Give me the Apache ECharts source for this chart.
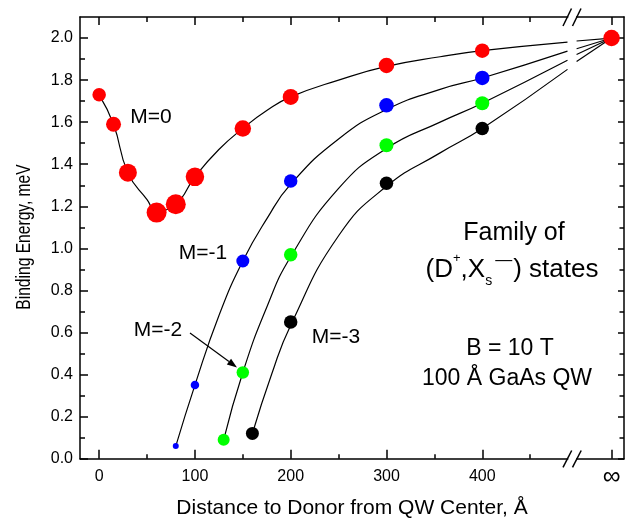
<!DOCTYPE html>
<html>
<head>
<meta charset="utf-8">
<script src="https://cdn.jsdelivr.net/npm/echarts@6/dist/echarts.min.js"></script>
<style>
html,body{margin:0;padding:0;background:#fff;}
#chart{width:631px;height:519px;}
</style>
</head>
<body>
<div id="chart"></div>
<script>
// ---------------- DATA ----------------
// axis ticks (Å and meV)
const xTickValues = [0, 100, 200, 300, 400];
const xInf = 535;                       // axis position that carries the "∞" label
const xMinorTicks = [50, 150, 250, 350, 450];
const yTickValues = [0, 0.2, 0.4, 0.6, 0.8, 1.0, 1.2, 1.4, 1.6, 1.8, 2.0];
const yMinorTicks = [0.1, 0.3, 0.5, 0.7, 0.9, 1.1, 1.3, 1.5, 1.7, 1.9];

// measured binding energies (meV) vs distance (Å)
const m0X = [0, 15, 30, 60, 80, 100, 150, 200, 300, 400];
const m0Y = [1.73, 1.59, 1.36, 1.17, 1.21, 1.34, 1.57, 1.72, 1.87, 1.94];
const m1X = [80, 100, 150, 200, 300, 400];
const m1Y = [0.06, 0.35, 0.94, 1.32, 1.68, 1.81];
const m2X = [130, 150, 200, 300, 400];
const m2Y = [0.09, 0.41, 0.97, 1.49, 1.69];
const m3X = [160, 200, 300, 400];
const m3Y = [0.12, 0.65, 1.31, 1.57];
const infY = 2.0;                       // common limit at infinite distance

// fitted curves (left of the axis break)
const c0X = [0, 15, 30, 50, 60, 80, 100, 125, 150, 175, 200, 250, 300, 356, 400, 489];
const c0Y = [1.73, 1.59, 1.36, 1.232, 1.18, 1.21, 1.34, 1.47, 1.57, 1.655, 1.72, 1.80, 1.865, 1.911, 1.94, 1.981];
const c1X = [80, 100, 125, 150, 175, 200, 250, 300, 356, 400, 489];
const c1Y = [0.06, 0.35, 0.68, 0.94, 1.14, 1.305, 1.52, 1.66, 1.756, 1.81, 1.938];
const c2X = [130, 150, 175, 200, 250, 300, 356, 400, 489];
const c2Y = [0.09, 0.41, 0.72, 0.96, 1.285, 1.475, 1.60, 1.69, 1.894];
const c3X = [160, 180, 200, 250, 300, 356, 400, 489];
const c3Y = [0.12, 0.40, 0.635, 1.06, 1.295, 1.454, 1.57, 1.851];
// curve segments right of the break, converging on the ∞ point
const breakRightX = 498.5;
const breakRightY = [1.986, 1.949, 1.922, 1.889];

// ---------------- STYLE ----------------
const FONT = '"Liberation Sans", Arial, Helvetica, sans-serif';
const STYLE = {
  m0Size: [13.5, 15, 18, 20, 20, 18.5, 16.5, 16, 15.5, 14.5, 16.5],
  m1Size: [6, 8.5, 13, 13.5, 14.5, 14.5],
  m2Size: [12, 12.5, 13.5, 14, 14],
  m3Size: [13, 13.5, 13.5, 13.5],
  curveWidth: 1.2,
  axisWidth: 1.5
};

const zip = (xs, ys) => xs.map((x, i) => [x, ys[i]]);
const chart = echarts.init(document.getElementById('chart'));

const X_MIN = -20, X_MAX = 548, Y_MIN = 0, Y_MAX = 2.1;
const axisLineStyle = { color: '#000', width: STYLE.axisWidth };

function xAxisDef(pos, ticks, len, showLine, showLabels) {
  return {
    type: 'value', position: pos, min: X_MIN, max: X_MAX,
    splitLine: { show: false },
    axisLine: { show: showLine, onZero: false, lineStyle: axisLineStyle },
    axisTick: { show: true, inside: true, length: len, customValues: ticks, lineStyle: axisLineStyle },
    axisLabel: showLabels ? {
      show: true, customValues: ticks, margin: 10,
      fontFamily: FONT, fontSize: 16, color: '#000',
      formatter: v => v === xInf ? '{inf|∞}' : String(v),
      rich: { inf: { fontSize: 25, lineHeight: 16, fontFamily: FONT, color: '#000' } }
    } : { show: false }
  };
}
function yAxisDef(pos, ticks, len, showLine, showLabels) {
  return {
    type: 'value', position: pos, min: Y_MIN, max: Y_MAX,
    splitLine: { show: false },
    axisLine: { show: showLine, onZero: false, lineStyle: axisLineStyle },
    axisTick: { show: true, inside: true, length: len, customValues: ticks, lineStyle: axisLineStyle },
    axisLabel: showLabels ? {
      show: true, customValues: ticks, margin: 7,
      fontFamily: FONT, fontSize: 16, color: '#000',
      formatter: v => v.toFixed(1)
    } : { show: false }
  };
}

const xAxes = [
  xAxisDef('bottom', xTickValues.concat([xInf]), 9, true, true),
  xAxisDef('bottom', xMinorTicks, 4.5, false, false),
  xAxisDef('top', xTickValues.concat([xInf]), 8, true, false),
  xAxisDef('top', xMinorTicks, 5, false, false)
];
xAxes[0].name = 'Distance to Donor from QW Center, Å';
xAxes[0].nameLocation = 'middle';
xAxes[0].nameGap = 39;
xAxes[0].nameTextStyle = { fontFamily: FONT, fontSize: 21, color: '#000' };

const yAxes = [
  yAxisDef('left', yTickValues, 8, true, true),
  yAxisDef('left', yMinorTicks, 5, false, false),
  yAxisDef('right', yTickValues, 6, true, false),
  yAxisDef('right', yMinorTicks, 4.5, false, false)
];

const lineBase = {
  type: 'line', smooth: 0.5, symbol: 'none', showSymbol: false, silent: true,
  lineStyle: { color: '#000', width: STYLE.curveWidth }, z: 2, animation: false
};
const curves = [zip(c0X, c0Y), zip(c1X, c1Y), zip(c2X, c2Y), zip(c3X, c3Y)];
const series = [];
curves.forEach(d => series.push(Object.assign({}, lineBase, { data: d })));
breakRightY.forEach(y => series.push(Object.assign({}, lineBase, { smooth: false, data: [[breakRightX, y], [xInf, infY]] })));

function scatter(data, sizes, color) {
  return {
    type: 'scatter', data: data, z: 5, animation: false, silent: true,
    symbol: 'circle', symbolSize: (v, p) => sizes[p.dataIndex],
    itemStyle: { color: color, opacity: 1 }
  };
}
series.push(scatter(zip(m3X, m3Y), STYLE.m3Size, '#000000'));
series.push(scatter(zip(m2X, m2Y), STYLE.m2Size, '#00ff00'));
series.push(scatter(zip(m1X, m1Y), STYLE.m1Size, '#0000ff'));
series.push(scatter(zip(m0X, m0Y).concat([[xInf, infY]]), STYLE.m0Size, '#ff0000'));

// ---------------- ANNOTATIONS ----------------
function txt(t, x, y, size, extra) {
  return Object.assign({
    type: 'text', x: x, y: y, z: 50, silent: true,
    style: Object.assign({
      text: t, font: size + 'px ' + FONT, fill: '#000',
      align: 'center', verticalAlign: 'middle',
      textAlign: 'center', textVerticalAlign: 'middle'
    }, (extra && extra.style) || {})
  }, (extra && extra.el) || {});
}
function seg(x1, y1, x2, y2, w) {
  return { type: 'line', z: 60, silent: true, shape: { x1, y1, x2, y2 }, style: { stroke: '#000', lineWidth: w || 1.5 } };
}
// arrow M=-2 -> point
const a0 = [190, 333], a1 = [237, 367.5];
const dx = a1[0] - a0[0], dy = a1[1] - a0[1], L = Math.hypot(dx, dy);
const ux = dx / L, uy = dy / L, hl = 10, hw = 3.6;
const bx = a1[0] - ux * hl, by = a1[1] - uy * hl;

const graphic = [
  txt('M=0', 151, 117, 21),
  txt('M=-1', 203, 253, 21),
  txt('M=-2', 158, 330, 21),
  txt('M=-3', 336, 337, 21),
  txt('Family of', 514, 233, 25),
  txt('(D{sup|+},X{sub|s}{sup2|—}) states', 512, 270, 26, { style: {
    lineHeight: 36,
    rich: {
      sup: { fontSize: 13, fontFamily: FONT, lineHeight: 13, verticalAlign: 'top', fill: '#000' },
      sup2: { fontSize: 17, fontFamily: FONT, lineHeight: 16, verticalAlign: 'top', fill: '#000', padding: [0, 1, 0, 3] },
      sub: { fontSize: 14, fontFamily: FONT, lineHeight: 14, verticalAlign: 'bottom', fill: '#000' }
    }
  } }),
  txt('B = 10 T', 510, 349, 23),
  txt('100 Å GaAs QW', 507, 379, 23),
  txt('Binding Energy, meV', 24, 237, 20, { el: { rotation: Math.PI / 2, scaleX: 0.78 } }),
  seg(a0[0], a0[1], bx, by, 1.2),
  { type: 'polygon', z: 60, silent: true,
    shape: { points: [a1, [bx - uy * hw, by + ux * hw], [bx + uy * hw, by - ux * hw]] },
    style: { fill: '#000' } },
  // axis break
  { type: 'rect', z: 55, silent: true, shape: { x: 568.3, y: 14, width: 7.8, height: 7 }, style: { fill: '#fff' } },
  { type: 'rect', z: 55, silent: true, shape: { x: 568.3, y: 455.5, width: 7.8, height: 7 }, style: { fill: '#fff' } },
  seg(563, 26, 571.5, 8.5, 1.5), seg(572.5, 26, 581, 8.5, 1.5),
  seg(563, 467.3, 571.7, 450.5, 1.5), seg(572.5, 467.3, 581.2, 450.5, 1.5)
];

chart.setOption({
  animation: false,
  backgroundColor: '#fff',
  grid: { left: 80, right: 7, top: 17, bottom: 60.3, containLabel: false, outerBoundsMode: 'none' },
  xAxis: xAxes,
  yAxis: yAxes,
  series: series,
  graphic: graphic
});
</script>
</body>
</html>
